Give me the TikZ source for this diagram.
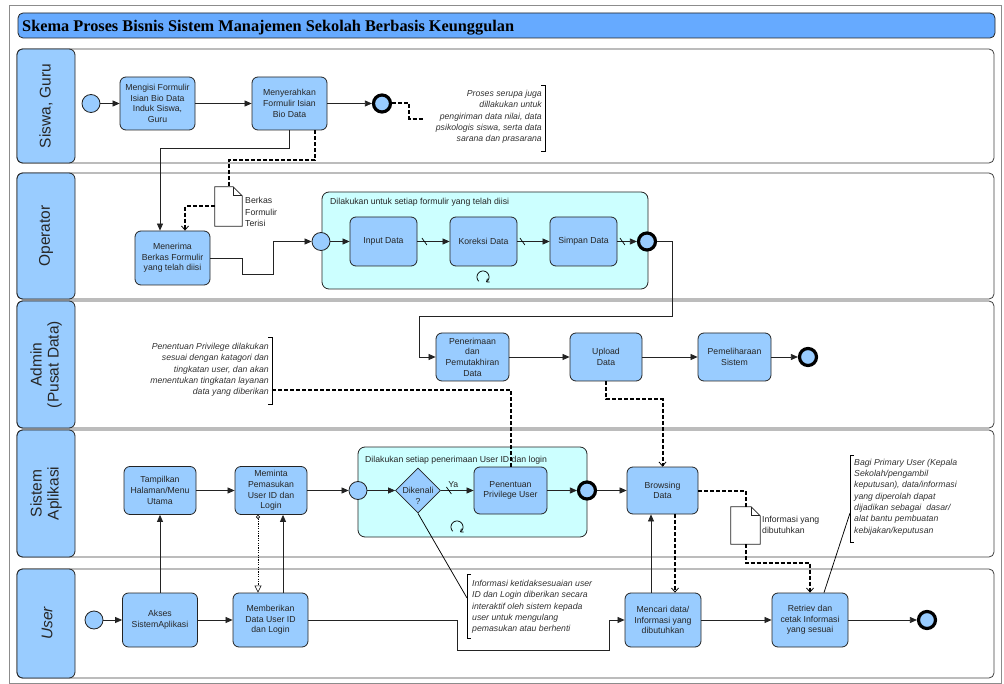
\documentclass[tikz,border=0pt]{standalone}
\usepackage{fontspec}
\setmainfont{Liberation Sans}
\newfontfamily\titlefont{Liberation Serif}
\usetikzlibrary{arrows.meta,shapes.geometric,calc}
\definecolor{laneblue}{RGB}{153,204,255}
\definecolor{titleblue}{RGB}{102,170,255}
\definecolor{subcyan}{RGB}{204,255,255}
\definecolor{edgegray}{RGB}{35,35,35}
\definecolor{anntext}{RGB}{50,50,50}
\newcommand{\drawdoc}[1]{%
  \draw[fill=white, line width=0.7pt, draw=edgegray] (#1.south west) -- (#1.north west) -- ([xshift=-9pt]#1.north east) -- ([yshift=-9pt]#1.north east) -- (#1.south east) -- cycle;
  \draw[line width=0.7pt, draw=edgegray] ([xshift=-9pt]#1.north east) -- ([xshift=-9pt,yshift=-9pt]#1.north east) -- ([yshift=-9pt]#1.north east);}
\newcommand{\loopmark}[2]{%
  \draw[line width=0.75pt, -{Straight Barb[length=2.5pt,width=4pt]}] plot[domain=135:420, samples=30] ({#1+6*cos(\x)},{#2+6*sin(\x)});}
\newcommand{\slashmark}[1]{\draw[line width=0.7pt] (#1) ++(-2.5,-3.5) -- ++(5,7);}
\tikzset{
  task/.style={draw=edgegray, fill=laneblue, rounded corners=6pt, align=center, inner sep=1pt,
    font=\fontsize{8.7}{10.7}\selectfont, text=black!85, line width=0.8pt},
  startev/.style={circle, draw=edgegray, fill=laneblue, minimum size=18pt, inner sep=0pt, line width=0.8pt},
  endev/.style={circle, draw=black, fill=laneblue, minimum size=17pt, inner sep=0pt, line width=3.2pt},
  gw/.style={diamond, aspect=1, draw=edgegray, fill=laneblue, minimum width=45pt, minimum height=45pt, inner sep=0pt, line width=0.8pt},
  subproc/.style={draw=edgegray, fill=subcyan, rounded corners=7pt, line width=0.8pt},
  docnode/.style={draw=none, inner sep=0pt},
  flow/.style={line width=0.75pt, draw=edgegray, -{Triangle[length=7pt,width=6pt]}},
  assoc/.style={line width=2pt, dash pattern=on 4pt off 2pt, draw=black},
  barb/.style={-{Straight Barb[length=4pt,width=7pt,line width=0.8pt]}},
  msg/.style={line width=0.9pt, dash pattern=on 1.2pt off 1.2pt, draw=black,
    {Circle[open,length=4pt,width=4pt,line width=0.6pt]}-{Triangle[open,length=7pt,width=7pt,line width=0.6pt]}},
  annline/.style={line width=0.75pt, draw=black},
  ann/.style={font=\fontsize{8.7}{11.3}\selectfont\itshape, text=anntext, inner sep=0pt},
  lbl/.style={font=\fontsize{8.7}{11.3}\selectfont, text=black!85, inner sep=0pt},
  bracket/.style={line width=0.7pt, draw=black},
  lanebody/.style={draw=black!75, line width=0.8pt, rounded corners=5pt},
  lanehead/.style={draw=edgegray, fill=laneblue, line width=0.8pt, rounded corners=6pt},
  lanelabel/.style={rotate=90, font=\fontsize{15.5}{17}\selectfont, align=center, text=black!85},
}
\begin{document}
\begin{tikzpicture}[x=1pt,y=-1pt]
\useasboundingbox (0,0) rectangle (1004,684);
% outer frame
\draw[black!45, line width=0.8pt] (9,5) rectangle (1001,683);
% title
\draw[draw=edgegray, fill=titleblue, rounded corners=5pt, line width=0.8pt] (18,13) rectangle (995,38);
\node[anchor=base west, inner sep=0pt, font=\titlefont\fontsize{16.3}{18}\selectfont\bfseries] (title) at (22,31.5) {Skema Proses Bisnis Sistem Manajemen Sekolah Berbasis Keunggulan};

% lanes
\draw[lanebody] (17,49) rectangle (994,163);
\draw[lanehead] (17,49) rectangle (75,163);
\node[lanelabel] (h1) at (46,106) {Siswa, Guru};
\draw[lanebody] (17,173) rectangle (994,299);
\draw[lanehead] (17,173) rectangle (75,299);
\node[lanelabel] (h2) at (46,236) {Operator};
\draw[lanebody] (17,301) rectangle (994,428);
\draw[lanehead] (17,301) rectangle (75,428);
\node[lanelabel] (h3) at (46,364.5) {Admin\\(Pusat Data)};
\draw[lanebody] (17,430) rectangle (994,557);
\draw[lanehead] (17,430) rectangle (75,557);
\node[lanelabel] (h4) at (46,493.5) {Sistem\\Aplikasi};
\draw[lanebody] (17,569) rectangle (994,678);
\draw[lanehead] (17,569) rectangle (75,678);
\node[lanelabel, font=\fontsize{15.5}{17}\selectfont\itshape] (h5) at (47,623.5) {User};

% subprocesses
\node[subproc, minimum width=326pt, minimum height=97pt] (sub1) at (485,240.5) {};
\node[lbl, anchor=base west] (sub1l) at (330,205) {Dilakukan untuk setiap formulir yang telah diisi};
\node[subproc, minimum width=229pt, minimum height=90pt] (sub2) at (472.5,492) {};
\node[lbl, anchor=base west] (sub2l) at (365,462) {Dilakukan setiap penerimaan User ID dan login};

% lane 1
\node[startev] (s1) at (91,103.5) {};
\node[task, minimum width=75pt, minimum height=53pt] (t1) at (157.5,103.5) {Mengisi Formulir\\Isian Bio Data\\Induk Siswa,\\Guru};
\node[task, minimum width=75pt, minimum height=53pt] (t2) at (289.5,103.5) {Menyerahkan\\Formulir Isian\\Bio Data};
\node[endev] (e1) at (382,103.5) {};
\node[ann, anchor=east, align=right] (a1) at (542,117) {Proses serupa juga\\dillakukan untuk\\pengiriman data nilai, data\\psikologis siswa, serta data\\sarana dan prasarana};
\draw[bracket] (541,85) -| (545,151) -- (541,151);
\coordinate (a1in) at (423,119);

% lane 2
\node[task, minimum width=75pt, minimum height=54pt] (t3) at (172.5,258) {Menerima\\Berkas Formulir\\yang telah diisi};
\node[docnode, minimum width=27pt, minimum height=39pt] (doc1) at (228.5,206.5) {};
\drawdoc{doc1}
\node[lbl, anchor=west, align=left] (doc1l) at (245,212) {Berkas\\Formulir\\Terisi};
\node[startev] (s2) at (321,241.5) {};
\node[task, minimum width=67pt, minimum height=49pt] (t4) at (383.5,241.5) {Input Data};
\node[task, minimum width=67pt, minimum height=49pt] (t5) at (483.5,241.5) {Koreksi Data};
\node[task, minimum width=67pt, minimum height=49pt] (t6) at (583.5,241.5) {Simpan Data};
\node[endev] (e2) at (647,241.5) {};
\loopmark{483}{277}

% lane 3
\node[task, minimum width=73pt, minimum height=48pt] (t7) at (472.5,357) {Penerimaan\\dan\\Pemutakhiran\\Data};
\node[task, minimum width=72pt, minimum height=48pt] (t8) at (606,357) {Upload\\Data};
\node[task, minimum width=73pt, minimum height=48pt] (t9) at (734.5,357) {Pemeliharaan\\Sistem};
\node[endev] (e3) at (808,357) {};
\node[ann, anchor=east, align=right] (a2) at (269,370) {Penentuan Privilege dilakukan\\sesuai dengan katagori dan\\tingkatan user, dan akan\\menentukan tingkatan layanan\\data yang diberikan};
\draw[bracket] (268,337) -| (272,404) -- (268,404);
\coordinate (a2out) at (272,390);

% lane 4
\node[task, minimum width=72pt, minimum height=48pt] (t10) at (160,490.5) {Tampilkan\\Halaman/Menu\\Utama};
\node[task, minimum width=72pt, minimum height=48pt] (t11) at (271,490.5) {Meminta\\Pemasukan\\User ID dan\\Login};
\node[startev] (s4) at (358,490.5) {};
\node[gw] (d1) at (418,490.5) {};
\node[lbl, align=center] (d1l) at (418,496) {Dikenali\\?};
\node[task, minimum width=73pt, minimum height=47pt] (t12) at (510.5,490.5) {Penentuan\\Privilege User};
\node[endev] (e4) at (587,490.5) {};
\node[task, minimum width=71pt, minimum height=47pt] (t13) at (662.5,490.5) {Browsing\\Data};
\loopmark{457}{527}
\node[docnode, minimum width=29pt, minimum height=37pt] (doc2) at (745.5,525.5) {};
\drawdoc{doc2}
\node[lbl, anchor=west, align=left] (doc2l) at (762,525) {Informasi yang\\dibutuhkan};
\node[ann, anchor=west, align=left] (a3) at (854,497) {Bagi Primary User (Kepala\\Sekolah/pengambil\\keputusan), data/informasi\\yang diperolah dapat\\dijadikan sebagai \ dasar/\\alat bantu pembuatan\\kebijakan/keputusan};
\draw[bracket] (854,455) -| (850,542) -- (854,542);
\coordinate (a3in) at (850,513);

% lane 5
\node[startev] (s5) at (94,620) {};
\node[task, minimum width=75pt, minimum height=54pt] (t14) at (160,620) {Akses\\SistemAplikasi};
\node[task, minimum width=75pt, minimum height=54pt] (t15) at (270.5,620) {Memberikan\\Data User ID\\dan Login};
\node[task, minimum width=76pt, minimum height=54pt] (t16) at (663,620) {Mencari data/\\Informasi yang\\dibutuhkan};
\node[task, minimum width=76pt, minimum height=54pt] (t17) at (810,620) {Retriev dan\\cetak Informasi\\yang sesuai};
\node[endev] (e5) at (927,620) {};
\node[ann, anchor=west, align=left] (a4) at (472,607) {Informasi ketidaksesuaian user\\ID dan Login diberikan secara\\interaktif oleh sistem kepada\\user untuk mengulang\\pemasukan atau berhenti};
\draw[bracket] (471,574) -| (467,638) -- (471,638);
\coordinate (a4in) at (467,598);

% ---- connectors ----
\draw[flow] (s1) -- (t1);
\draw[flow] (t1) -- (t2);
\draw[flow] (t2) -- (e1);
\draw[assoc] (e1.east) -- ++(17,0) |- (a1in);
\draw[flow] (t2.south) -- ++(0,18) -| ([xshift=-12.5pt]t3.north);
\draw[assoc] ([xshift=25.5pt]t2.south) -- ++(0,30) -| (doc1.north);
\draw[assoc, barb] (doc1.west) -| ([xshift=12.5pt]t3.north);

\coordinate (k1) at (242,274);
\coordinate (k2) at (273,274);
\draw[flow] (t3.east) -| (k1) -- (k2) |- (s2.west);
\draw[flow] (s2) -- (t4);
\draw[flow] (t4) -- (t5);
\draw[flow] (t5) -- (t6);
\draw[flow] (t6) -- (e2);
\slashmark{$(t4.east)+(7,0)$}
\slashmark{$(t5.east)+(5,0)$}
\slashmark{$(t6.east)+(5,0)$}

\coordinate (b1) at (672,316);
\coordinate (b2) at (419,316);
\draw[flow] (e2.east) -| (b1) -- (b2) |- (t7.west);
\draw[flow] (t7) -- (t8);
\draw[flow] (t8) -- (t9);
\draw[flow] (t9) -- (e3);
\draw[assoc] (a2out) -| (t12.north);
\draw[assoc, barb] (t8.south) -- ++(0,18) -| (t13.north);

\draw[flow] (t10) -- (t11);
\draw[flow] (t11) -- (s4);
\draw[flow] (s4) -- (d1);
\draw[flow] (d1) -- node[lbl, above=3pt, pos=0.38] {Ya} (t12);
\slashmark{$(d1.east)+(8,0)$}
\draw[flow] (t12) -- (e4);
\draw[flow] (e4) -- (t13);
\draw[assoc] (t13.east) -| (doc2.north);
\draw[assoc, barb] (doc2.south) -- ++(0,19) -| (t17.north);
\draw[annline] (a3in) -- ([xshift=14pt]t17.north);
\draw[annline] (d1.south) -- (a4in);

\draw[flow] (s5) -- (t14);
\draw[flow] (t14) -- (t15);
\coordinate (c1) at (457,650);
\coordinate (c2) at (609,650);
\draw[flow] (t15.east) -| (c1) -- (c2) |- (t16.west);
\draw[flow] (t16) -- (t17);
\draw[flow] (t17) -- (e5);
\draw[flow] (t14.north) -- (t10.south);
\draw[flow] ([xshift=12.5pt]t15.north) -- ([xshift=12pt]t11.south);
\draw[msg] ([xshift=-13pt]t11.south) -- ([xshift=-12.5pt]t15.north);
\draw[flow] ([xshift=-12pt]t16.north) -- ([xshift=-11.5pt]t13.south);
\draw[assoc, barb] ([xshift=12.5pt]t13.south) -- ([xshift=12pt]t16.north);
\end{tikzpicture}
\end{document}
